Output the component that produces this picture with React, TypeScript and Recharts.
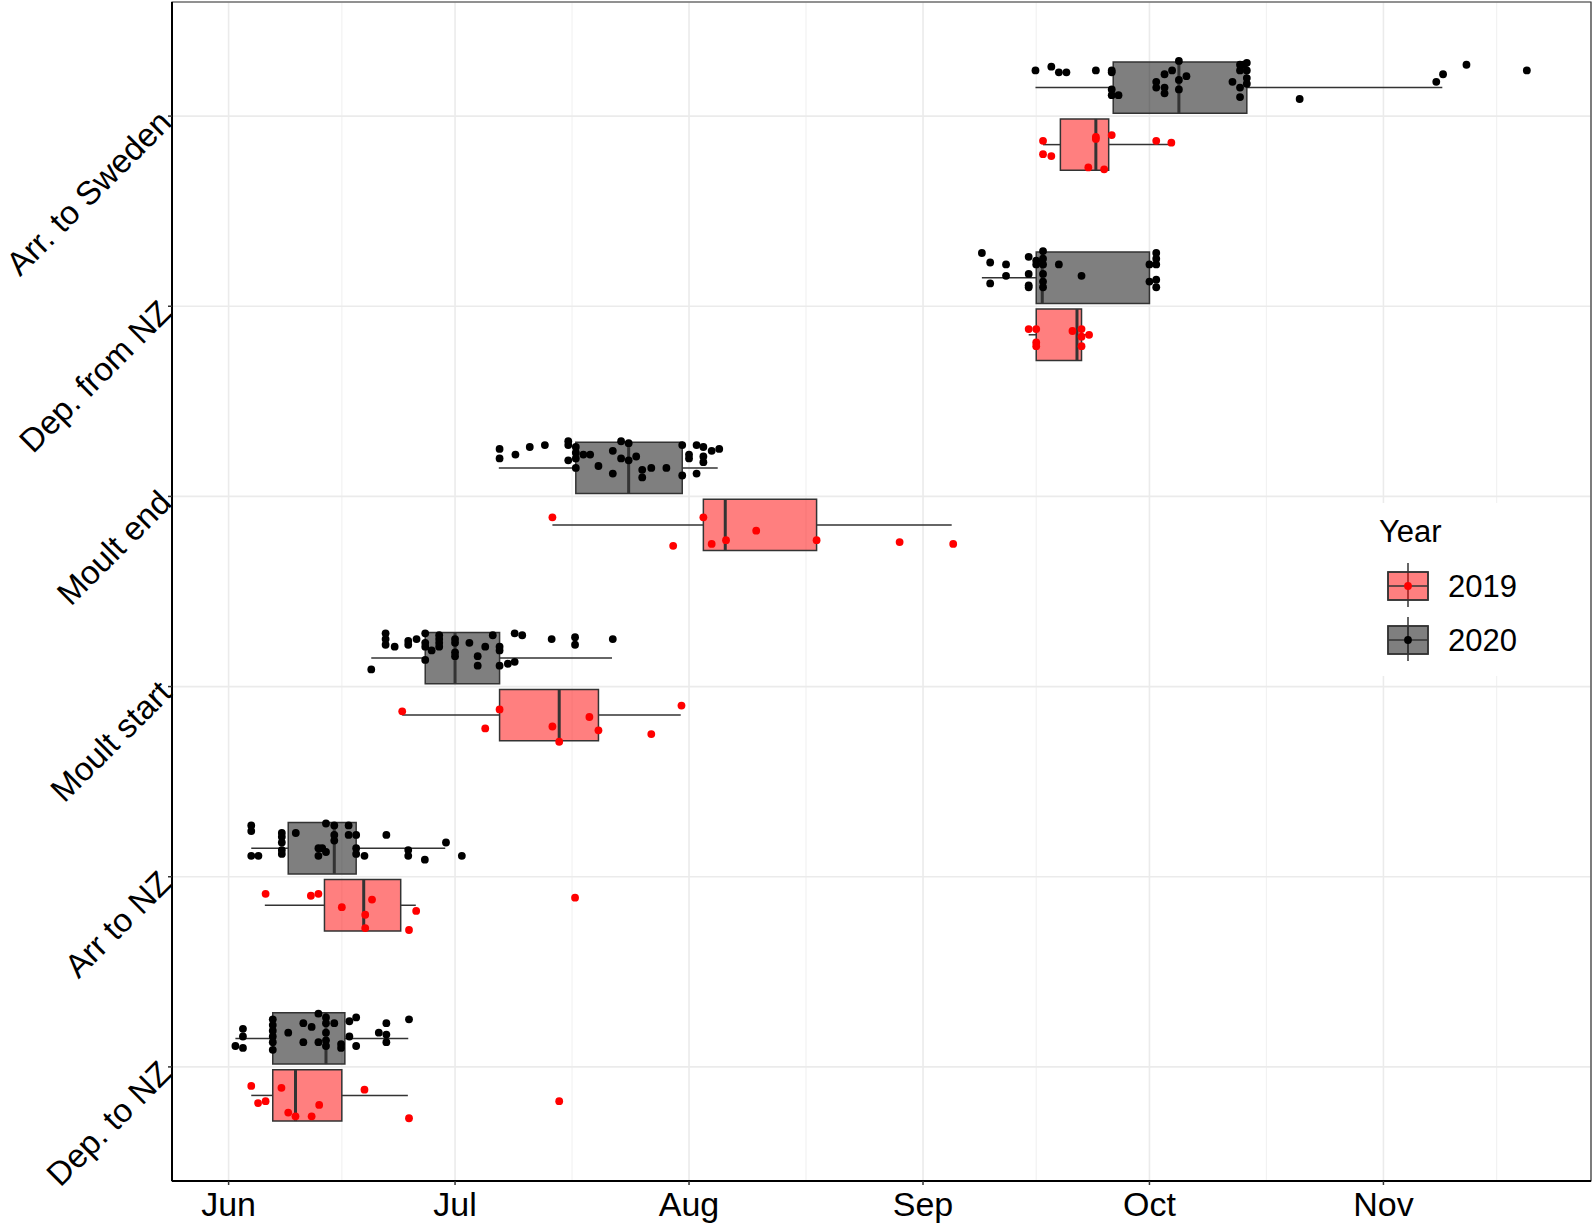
import React from 'react'
import {
  ComposedChart,
  Scatter,
  XAxis,
  YAxis,
  CartesianGrid,
  ReferenceArea,
  ReferenceLine,
} from 'recharts'

// x values are days counted from 1 June
const categories = ['Dep. to NZ', 'Arr to NZ', 'Moult start', 'Moult end', 'Dep. from NZ', 'Arr. to Sweden']
const monthTicks = [0, 30, 61, 92, 122, 153]
const monthLabels = ['Jun', 'Jul', 'Aug', 'Sep', 'Oct', 'Nov']
const minorTicks = [15, 45.5, 76.5, 107, 137.5, 168]
const categoryTicks = [1, 2, 3, 4, 5, 6]

// [lower whisker, q1, median, q3, upper whisker], one row per category
const box2019 = [
  [3.0, 5.85, 8.86, 15.0, 23.75],
  [4.8, 12.7, 17.9, 22.8, 24.8],
  [23.0, 35.9, 43.8, 49.0, 59.9],
  [42.9, 62.9, 65.8, 77.9, 95.8],
  [106.0, 107.0, 112.4, 113.0, 113.8],
  [107.9, 110.2, 114.9, 116.6, 124.9],
]
const box2020 = [
  [0.9, 5.85, 12.9, 15.4, 23.8],
  [3.0, 7.9, 14.0, 16.9, 28.7],
  [18.9, 26.05, 30.0, 35.9, 50.8],
  [35.8, 46.0, 53.0, 60.1, 64.8],
  [99.8, 107.0, 107.8, 122.0, 122.0],
  [106.9, 117.2, 125.9, 134.9, 160.8],
]

// jittered observations: [day, y]
const depToNZ2019 = [[3.0, 0.9], [3.9, 0.81], [4.9, 0.82], [7.0, 0.89], [7.9, 0.76], [8.86, 0.74], [11.0, 0.74], [12.0, 0.8], [18.0, 0.88], [23.9, 0.73], [43.8, 0.82]]
const depToNZ2020 = [[0.9, 1.11], [1.9, 1.2], [1.9, 1.16], [1.9, 1.1], [5.85, 1.25], [5.85, 1.22], [5.85, 1.19], [5.85, 1.16], [5.85, 1.13], [5.85, 1.09], [7.9, 1.18], [9.9, 1.23], [9.9, 1.13], [11.0, 1.21], [11.9, 1.28], [11.9, 1.13], [12.9, 1.26], [12.9, 1.23], [12.9, 1.18], [12.9, 1.14], [12.9, 1.11], [14.0, 1.23], [14.9, 1.12], [14.9, 1.1], [16.0, 1.24], [16.0, 1.16], [16.9, 1.26], [16.9, 1.11], [19.9, 1.18], [20.9, 1.23], [20.9, 1.17], [20.9, 1.13], [23.9, 1.25]]
const arrToNZ2019 = [[4.9, 1.91], [10.9, 1.9], [11.9, 1.91], [15.0, 1.84], [18.1, 1.8], [18.1, 1.73], [19.0, 1.88], [24.85, 1.82], [23.9, 1.72], [45.9, 1.89]]
const arrToNZ2020 = [[3.0, 2.27], [3.0, 2.24], [3.0, 2.11], [3.95, 2.11], [7.05, 2.23], [7.05, 2.21], [7.05, 2.18], [7.05, 2.14], [7.05, 2.12], [8.9, 2.23], [11.9, 2.15], [11.9, 2.11], [12.4, 2.15], [12.9, 2.13], [12.9, 2.28], [14.0, 2.27], [14.0, 2.22], [14.0, 2.19], [15.9, 2.27], [15.9, 2.22], [16.9, 2.22], [16.9, 2.15], [16.9, 2.12], [18.0, 2.11], [20.9, 2.22], [23.8, 2.14], [23.8, 2.11], [26.0, 2.09], [28.8, 2.18], [30.9, 2.11]]
const moultStart2019 = [[23.0, 2.87], [34.0, 2.78], [35.9, 2.88], [42.9, 2.79], [43.8, 2.71], [47.8, 2.84], [49.0, 2.77], [56.0, 2.75], [60.0, 2.9]]
const moultStart2020 = [[18.9, 3.09], [20.8, 3.28], [20.8, 3.25], [20.8, 3.22], [22.0, 3.21], [23.8, 3.24], [23.8, 3.22], [24.9, 3.25], [26.05, 3.28], [26.05, 3.23], [26.05, 3.21], [26.05, 3.14], [26.9, 3.19], [27.9, 3.27], [27.9, 3.25], [27.9, 3.23], [27.9, 3.21], [30.0, 3.25], [30.0, 3.23], [30.0, 3.18], [30.0, 3.16], [31.9, 3.23], [33.0, 3.16], [33.0, 3.11], [34.0, 3.21], [35.0, 3.27], [35.9, 3.21], [35.9, 3.19], [35.9, 3.11], [37.0, 3.12], [37.9, 3.13], [37.9, 3.28], [38.9, 3.27], [42.8, 3.25], [45.9, 3.26], [45.9, 3.22], [50.9, 3.25]]
const moultEnd2019 = [[42.9, 3.89], [58.9, 3.74], [62.9, 3.89], [64.0, 3.75], [65.9, 3.77], [69.9, 3.82], [77.9, 3.77], [88.9, 3.76], [96.0, 3.75]]
const moultEnd2020 = [[35.9, 4.25], [35.9, 4.2], [38.0, 4.22], [39.9, 4.26], [41.9, 4.27], [45.0, 4.29], [45.0, 4.27], [45.0, 4.19], [46.0, 4.26], [46.0, 4.23], [46.0, 4.2], [46.0, 4.15], [47.0, 4.22], [47.9, 4.22], [49.0, 4.16], [50.9, 4.24], [50.9, 4.12], [52.0, 4.29], [52.0, 4.2], [53.0, 4.28], [53.0, 4.19], [54.0, 4.21], [54.8, 4.14], [54.8, 4.1], [56.0, 4.15], [58.0, 4.15], [60.1, 4.27], [60.1, 4.11], [61.0, 4.22], [61.0, 4.2], [62.0, 4.27], [62.0, 4.12], [62.9, 4.26], [62.9, 4.21], [62.9, 4.18], [64.0, 4.24], [65.0, 4.25]]
const depFromNZ2019 = [[106.0, 4.88], [107.0, 4.88], [107.0, 4.81], [107.0, 4.79], [111.8, 4.87], [113.0, 4.88], [113.0, 4.84], [114.0, 4.85], [113.0, 4.79]]
const depFromNZ2020 = [[99.8, 5.28], [100.9, 5.23], [103.0, 5.22], [103.0, 5.16], [100.9, 5.12], [106.0, 5.26], [106.0, 5.17], [106.0, 5.11], [106.0, 5.1], [107.0, 5.24], [107.0, 5.22], [107.9, 5.29], [107.9, 5.25], [107.9, 5.22], [107.9, 5.17], [107.9, 5.13], [107.9, 5.1], [110.0, 5.22], [113.0, 5.16], [122.0, 5.22], [122.9, 5.28], [122.9, 5.25], [122.9, 5.22], [122.0, 5.13], [122.9, 5.14], [122.9, 5.1]]
const arrSweden2019 = [[107.9, 5.87], [107.9, 5.8], [109.0, 5.79], [113.9, 5.73], [114.9, 5.89], [114.9, 5.88], [116.0, 5.72], [117.0, 5.9], [122.9, 5.87], [124.9, 5.86]]
const arrSweden2020 = [[106.9, 6.24], [109.0, 6.26], [110.0, 6.23], [111.0, 6.23], [114.9, 6.24], [117.0, 6.24], [117.0, 6.23], [117.0, 6.14], [117.0, 6.11], [117.9, 6.11], [122.9, 6.18], [122.9, 6.15], [124.0, 6.15], [124.0, 6.12], [124.0, 6.22], [125.0, 6.24], [125.9, 6.29], [125.9, 6.19], [125.9, 6.14], [126.9, 6.21], [133.0, 6.18], [134.0, 6.27], [134.5, 6.27], [134.0, 6.24], [134.9, 6.28], [134.9, 6.24], [134.9, 6.2], [134.9, 6.17], [134.0, 6.15], [134.0, 6.1], [141.9, 6.09], [160.0, 6.18], [160.9, 6.22], [164.0, 6.27], [172.0, 6.24]]

const points2019 = [depToNZ2019, arrToNZ2019, moultStart2019, moultEnd2019, depFromNZ2019, arrSweden2019]
const points2020 = [depToNZ2020, arrToNZ2020, moultStart2020, moultEnd2020, depFromNZ2020, arrSweden2020]

const FONT = '"Liberation Sans", Arial, sans-serif'
const X_DOMAIN = [-7.5, 180.5]
const Y_DOMAIN = [0.4, 6.6]
const DODGE = 0.15
const HALF = 0.135
const EDGE = '#333333'
const AXIS_FONT = 34

function YTick(props: any) {
  const { x, y, payload } = props
  return (
    <text
      x={x}
      y={y}
      dy="0.35em"
      textAnchor="end"
      fontSize={33}
      fill="#000"
      fontFamily={FONT}
      transform={`rotate(-45 ${x} ${y})`}
    >
      {categories[payload.value - 1]}
    </text>
  )
}

const dot = (color: string) => (props: any) => (
  <circle cx={props.cx} cy={props.cy} r={3.9} fill={color} />
)

function boxElements(stats: number[][], offset: number, fill: string, key: string) {
  const out: React.ReactNode[] = []
  stats.forEach(([lo, q1, med, q3, hi], i) => {
    const c = categoryTicks[i] + offset
    out.push(
      <ReferenceLine
        key={`${key}-wl-${i}`}
        segment={[{ x: lo, y: c }, { x: q1, y: c }]}
        stroke={EDGE}
        strokeWidth={1.5}
        ifOverflow="visible"
      />,
      <ReferenceLine
        key={`${key}-wh-${i}`}
        segment={[{ x: q3, y: c }, { x: hi, y: c }]}
        stroke={EDGE}
        strokeWidth={1.5}
        ifOverflow="visible"
      />,
      <ReferenceArea
        key={`${key}-box-${i}`}
        x1={q1}
        x2={q3}
        y1={c - HALF}
        y2={c + HALF}
        fill={fill}
        fillOpacity={0.5}
        stroke={EDGE}
        strokeWidth={1.5}
        strokeOpacity={1}
        ifOverflow="visible"
      />,
      <ReferenceLine
        key={`${key}-med-${i}`}
        segment={[{ x: med, y: c - HALF }, { x: med, y: c + HALF }]}
        stroke={EDGE}
        strokeWidth={3}
        ifOverflow="visible"
      />,
    )
  })
  return out
}

function LegendKey({ y, fill, dotColor }: { y: number; fill: string; dotColor: string }) {
  return (
    <g>
      <line x1={1408} x2={1408} y1={y - 23} y2={y + 21} stroke={EDGE} strokeWidth={1.5} />
      <rect x={1388} y={y - 14} width={40} height={28} fill={fill} fillOpacity={0.5} stroke={EDGE} strokeWidth={1.5} />
      <rect x={1388} y={y - 14} width={40} height={28} fill="none" stroke={EDGE} strokeWidth={1.5} />
      <line x1={1388} x2={1428} y1={y} y2={y} stroke={EDGE} strokeWidth={1.5} />
      <circle cx={1408} cy={y} r={3.9} fill={dotColor} />
    </g>
  )
}

export default function App() {
  const data2019 = points2019.flat().map(([x, y]) => ({ x, y }))
  const data2020 = points2020.flat().map(([x, y]) => ({ x, y }))

  return (
    <div style={{ position: 'absolute', left: 0, top: 0, width: 1594, height: 1226, background: '#fff' }}>
      <ComposedChart width={1594} height={1226} margin={{ top: 2, right: 3, bottom: 0, left: 0 }}>
        <CartesianGrid xAxisId="minor" stroke="#F2F2F2" strokeWidth={1.2} horizontal={false} />
        <CartesianGrid stroke="#EBEBEB" strokeWidth={1.6} />
        <XAxis
          xAxisId="minor"
          type="number"
          dataKey="x"
          domain={X_DOMAIN}
          ticks={minorTicks}
          allowDataOverflow
          hide
        />
        <XAxis
          type="number"
          dataKey="x"
          domain={X_DOMAIN}
          ticks={monthTicks}
          allowDataOverflow
          height={45}
          tickFormatter={(v: number) => monthLabels[monthTicks.indexOf(v)]}
          tick={{ fontSize: AXIS_FONT, fill: '#000', fontFamily: FONT }}
          tickSize={4}
          tickMargin={7}
          tickLine={{ stroke: EDGE, strokeWidth: 1.5 }}
          axisLine={{ stroke: '#000', strokeWidth: 2 }}
        />
        <YAxis
          type="number"
          dataKey="y"
          domain={Y_DOMAIN}
          ticks={categoryTicks}
          allowDataOverflow
          width={172}
          tick={<YTick />}
          tickSize={4}
          tickMargin={3}
          tickLine={{ stroke: EDGE, strokeWidth: 1.5 }}
          axisLine={{ stroke: '#000', strokeWidth: 2 }}
        />
        <ReferenceArea
          x1={X_DOMAIN[0]}
          x2={X_DOMAIN[1]}
          y1={Y_DOMAIN[0]}
          y2={Y_DOMAIN[1]}
          fill="none"
          stroke={EDGE}
          strokeWidth={1.2}
          ifOverflow="visible"
        />
        {boxElements(box2019, -DODGE, '#FF0000', 'b19')}
        {boxElements(box2020, DODGE, '#000000', 'b20')}
        <Scatter data={data2019} fill="#FF0000" shape={dot('#FF0000')} isAnimationActive={false} />
        <Scatter data={data2020} fill="#000000" shape={dot('#000000')} isAnimationActive={false} />
      </ComposedChart>

      <svg
        width={1594}
        height={1226}
        style={{ position: 'absolute', left: 0, top: 0, pointerEvents: 'none' }}
        fontFamily={FONT}
      >
        <rect x={1362} y={503} width={168} height={173} fill="#fff" />
        <text x={1379} y={542} fontSize={31} fill="#000">Year</text>
        <LegendKey y={586} fill="#FF0000" dotColor="#FF0000" />
        <text x={1448} y={597} fontSize={31} fill="#000">2019</text>
        <LegendKey y={640} fill="#000000" dotColor="#000000" />
        <text x={1448} y={651} fontSize={31} fill="#000">2020</text>
      </svg>
    </div>
  )
}
